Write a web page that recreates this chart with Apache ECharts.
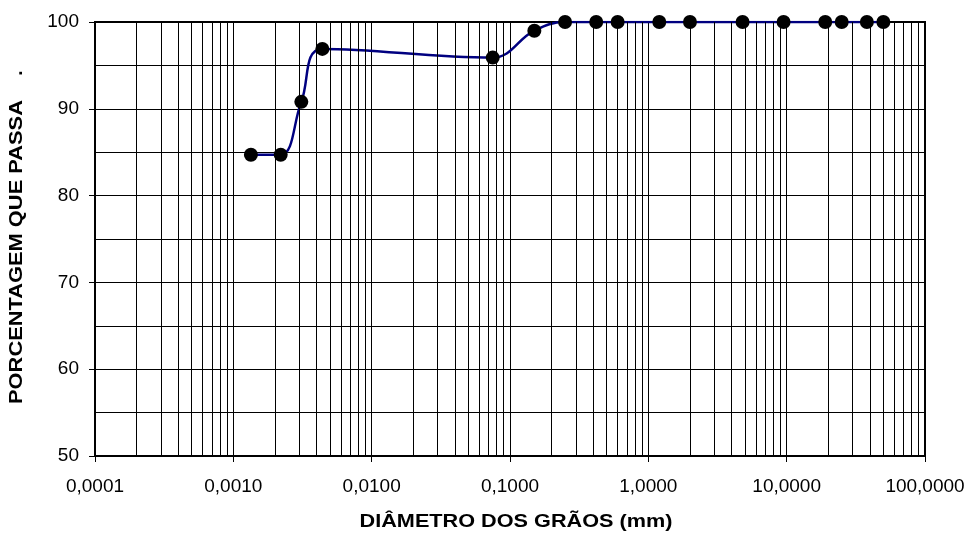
<!DOCTYPE html>
<html>
<head>
<meta charset="utf-8">
<script src="https://cdn.jsdelivr.net/npm/echarts@6/dist/echarts.min.js"></script>
<style>
  html, body { margin: 0; padding: 0; background: #fff; }
  #chart { width: 974px; height: 538px; }
</style>
</head>
<body>
<div id="chart"></div>
<script>
// Grain size distribution (curva granulométrica)
const diametros = [0.00134, 0.0022, 0.0031, 0.0044, 0.075, 0.15, 0.25, 0.42, 0.6, 1.2, 2.0, 4.8, 9.5, 19.0, 25.0, 38.0, 50.0];
const passantes = [84.7, 84.7, 90.8, 96.9, 95.9, 99.0, 100, 100, 100, 100, 100, 100, 100, 100, 100, 100, 100];

// Log-paper minor divisions: 2..9 in every decade from 0.0001 to 100
const decadas = [0.0001, 0.001, 0.01, 0.1, 1, 10];
const divisoes = [2, 3, 4, 5, 6, 7, 8, 9];

const linhasMenores = [];
decadas.forEach(d => divisoes.forEach(k => linhasMenores.push({ xAxis: +(d * k).toPrecision(6) })));

const fonte = '"Liberation Sans", Arial, sans-serif';

const chart = echarts.init(document.getElementById('chart'));
chart.setOption({
  animation: false,
  backgroundColor: '#fff',
  grid: {
    left: 95, right: 49, top: 22, bottom: 82,
    show: true, borderColor: '#000', borderWidth: 2, backgroundColor: 'transparent'
  },
  xAxis: {
    type: 'log',
    logBase: 10,
    min: 0.0001,
    max: 100,
    axisLine: { show: true, onZero: false, lineStyle: { color: '#000', width: 2 } },
    axisTick: { show: true, inside: false, length: 6, lineStyle: { color: '#000', width: 1 } },
    axisLabel: {
      color: '#000', fontFamily: fonte, fontSize: 19, margin: 21,
      formatter: v => v.toFixed(4).replace('.', ',')
    },
    splitLine: { show: true, lineStyle: { color: '#000', width: 1 } }
  },
  yAxis: {
    type: 'value',
    min: 50,
    max: 100,
    interval: 10,
    axisLine: { show: true, lineStyle: { color: '#000', width: 2 } },
    axisTick: { show: true, length: 6, lineStyle: { color: '#000', width: 1 } },
    axisLabel: { color: '#000', fontFamily: fonte, fontSize: 19, margin: 16 },
    splitLine: { show: true, lineStyle: { color: '#000', width: 1 } },
    minorTick: { show: false, splitNumber: 2 },
    minorSplitLine: { show: true, lineStyle: { color: '#000', width: 1 } }
  },
  graphic: [
    {
      type: 'text', x: 516, y: 522, scaleX: 1.14,
      style: {
        text: 'DIÂMETRO DOS GRÃOS (mm)', font: 'bold 19px ' + fonte, fill: '#000',
        align: 'center', verticalAlign: 'middle'
      }
    },
    {
      type: 'text', x: 17, y: 252, rotation: Math.PI / 2, scaleX: 1.15,
      style: {
        text: 'PORCENTAGEM QUE PASSA', font: 'bold 19px ' + fonte, fill: '#000',
        align: 'center', verticalAlign: 'middle'
      }
    },
    {
      type: 'text', x: 17, y: 73, rotation: Math.PI / 2,
      style: {
        text: '.', font: 'bold 19px ' + fonte, fill: '#000',
        align: 'center', verticalAlign: 'middle'
      }
    }
  ],
  series: [
    {
      type: 'line',
      data: [],
      silent: true,
      z: 1,
      markLine: {
        silent: true,
        precision: 10,
        symbol: ['none', 'none'],
        label: { show: false },
        lineStyle: { color: '#000', width: 1, type: 'solid' },
        data: linhasMenores,
        animation: false
      }
    },
    {
      type: 'line',
      z: 3,
      data: diametros.map((d, i) => [d, passantes[i]]),
      smooth: 0.4,
      symbol: 'circle',
      symbolSize: 14,
      itemStyle: { color: '#000' },
      lineStyle: { color: '#000080', width: 2.5 }
    }
  ]
});
</script>
</body>
</html>
